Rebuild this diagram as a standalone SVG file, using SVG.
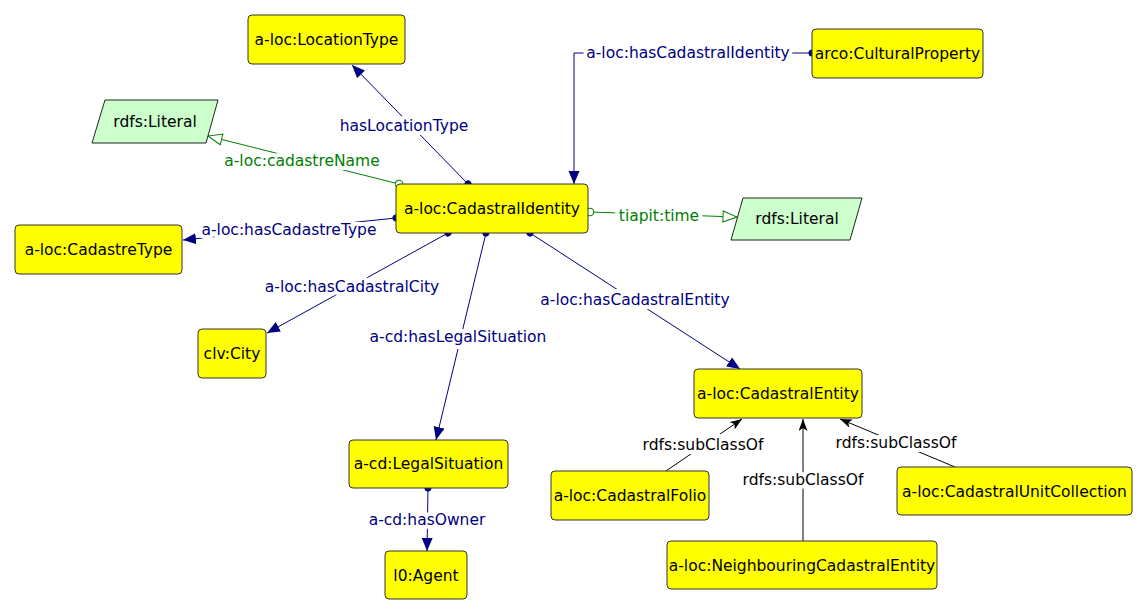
<svg xmlns="http://www.w3.org/2000/svg" width="1148" height="616" viewBox="0 0 1148 616">
<style>
.node rect{fill:#ffff00;stroke:#333;stroke-width:1}
.lit polygon{fill:#ccffcc;stroke:#222;stroke-width:1}
text{font-family:"DejaVu Sans","Liberation Sans",sans-serif;font-size:15.5px;text-anchor:middle;dominant-baseline:central}
.nt{fill:#000}
.e{fill:none;stroke-width:1}
.nv{stroke:#000080}
.gr{stroke:#008000}
.bk{stroke:#000}
.lbl{stroke:#fff;stroke-width:8px;paint-order:stroke;stroke-linejoin:round}
.lnv{fill:#000080}
.lgr{fill:#008000}
.lbk{fill:#000}
</style>
<defs>
<marker id="aN" markerUnits="userSpaceOnUse" markerWidth="14" markerHeight="12" refX="13" refY="5.5" orient="auto"><path d="M0,0 L13,5.5 L0,11 z" fill="#000080"/></marker>
<marker id="dN" markerUnits="userSpaceOnUse" markerWidth="10" markerHeight="10" refX="5" refY="5" orient="auto"><circle cx="5" cy="5" r="3.5" fill="#000080"/></marker>
<marker id="aG" markerUnits="userSpaceOnUse" markerWidth="16" markerHeight="14" refX="15" refY="6.5" orient="auto"><path d="M1,1 L15,6.5 L1,12 z" fill="#fff" stroke="#008000" stroke-width="1"/></marker>
<marker id="cG" markerUnits="userSpaceOnUse" markerWidth="10" markerHeight="10" refX="5" refY="5" orient="auto"><circle cx="5" cy="5" r="3.8" fill="#fff" stroke="#008000" stroke-width="1"/></marker>
<marker id="aB" markerUnits="userSpaceOnUse" markerWidth="14" markerHeight="10" refX="12" refY="4.5" orient="auto"><path d="M0,0 L12,4.5 L0,9 L3,4.5 z" fill="#000"/></marker>
</defs>
<g id="connectors">
<line class="e nv" x1="468" y1="184" x2="352" y2="65" marker-start="url(#dN)" marker-end="url(#aN)"/>
<line class="e gr" x1="399" y1="184" x2="208" y2="136" marker-start="url(#cG)" marker-end="url(#aG)"/>
<line class="e nv" x1="396" y1="218" x2="183" y2="240" marker-start="url(#dN)" marker-end="url(#aN)"/>
<line class="e gr" x1="590" y1="212" x2="737" y2="217" marker-start="url(#cG)" marker-end="url(#aG)"/>
<path class="e nv" d="M812,53 H574 V184" marker-start="url(#dN)" marker-end="url(#aN)"/>
<line class="e nv" x1="448" y1="233" x2="267" y2="333" marker-start="url(#dN)" marker-end="url(#aN)"/>
<line class="e nv" x1="486" y1="233" x2="436" y2="440" marker-start="url(#dN)" marker-end="url(#aN)"/>
<line class="e nv" x1="530" y1="233" x2="740" y2="369" marker-start="url(#dN)" marker-end="url(#aN)"/>
<line class="e nv" x1="428" y1="488" x2="427" y2="551" marker-start="url(#dN)" marker-end="url(#aN)"/>
<line class="e bk" x1="666" y1="471" x2="742" y2="419" marker-end="url(#aB)"/>
<line class="e bk" x1="803" y1="541" x2="803" y2="419" marker-end="url(#aB)"/>
<line class="e bk" x1="955" y1="467" x2="840" y2="419" marker-end="url(#aB)"/>
<text class="lbl lnv" x="404" y="126">hasLocationType</text>
<text class="lbl lgr" x="302" y="161">a-loc:cadastreName</text>
<text class="lbl lnv" x="289" y="230">a-loc:hasCadastreType</text>
<text class="lbl lgr" x="659" y="216">tiapit:time</text>
<text class="lbl lnv" x="688" y="53">a-loc:hasCadastralIdentity</text>
<text class="lbl lnv" x="352" y="287">a-loc:hasCadastralCity</text>
<text class="lbl lnv" x="458" y="337">a-cd:hasLegalSituation</text>
<text class="lbl lnv" x="635" y="300">a-loc:hasCadastralEntity</text>
<text class="lbl lnv" x="427" y="520">a-cd:hasOwner</text>
<text class="lbl lbk" x="703" y="445">rdfs:subClassOf</text>
<text class="lbl lbk" x="803" y="480">rdfs:subClassOf</text>
<text class="lbl lbk" x="896" y="443">rdfs:subClassOf</text>
</g>
<g id="n-LocationType" class="node"><rect x="248" y="15" width="157" height="49" rx="4"/><text class="nt" x="326.5" y="40">a-loc:LocationType</text></g>
<g id="n-Literal1" class="lit"><polygon points="105,100 218,100 206,143 92,143"/><text class="nt" x="155" y="122">rdfs:Literal</text></g>
<g id="n-CadastralIdentity" class="node"><rect x="396" y="184" width="192" height="49" rx="4"/><text class="nt" x="492" y="209">a-loc:CadastralIdentity</text></g>
<g id="n-Literal2" class="lit"><polygon points="743,198 862,198 850,240 731,240"/><text class="nt" x="797" y="219">rdfs:Literal</text></g>
<g id="n-CadastreType" class="node"><rect x="15" y="225" width="167" height="49" rx="4"/><text class="nt" x="98.5" y="250">a-loc:CadastreType</text></g>
<g id="n-CulturalProperty" class="node"><rect x="812" y="29" width="171" height="49" rx="4"/><text class="nt" x="897.5" y="54">arco:CulturalProperty</text></g>
<g id="n-City" class="node"><rect x="198" y="329" width="68" height="49" rx="4"/><text class="nt" x="232" y="354">clv:City</text></g>
<g id="n-LegalSituation" class="node"><rect x="349" y="440" width="159" height="48" rx="4"/><text class="nt" x="428.5" y="464">a-cd:LegalSituation</text></g>
<g id="n-Agent" class="node"><rect x="385" y="551" width="82" height="48" rx="4"/><text class="nt" x="426" y="576">l0:Agent</text></g>
<g id="n-CadastralEntity" class="node"><rect x="694" y="369" width="168" height="49" rx="4"/><text class="nt" x="778" y="394">a-loc:CadastralEntity</text></g>
<g id="n-CadastralFolio" class="node"><rect x="551" y="471" width="158" height="49" rx="4"/><text class="nt" x="630" y="496">a-loc:CadastralFolio</text></g>
<g id="n-NeighbouringCadastralEntity" class="node"><rect x="667" y="541" width="270" height="48" rx="4"/><text class="nt" x="802" y="566">a-loc:NeighbouringCadastralEntity</text></g>
<g id="n-CadastralUnitCollection" class="node"><rect x="897" y="467" width="235" height="48" rx="4"/><text class="nt" x="1014.5" y="492">a-loc:CadastralUnitCollection</text></g>
</svg>
